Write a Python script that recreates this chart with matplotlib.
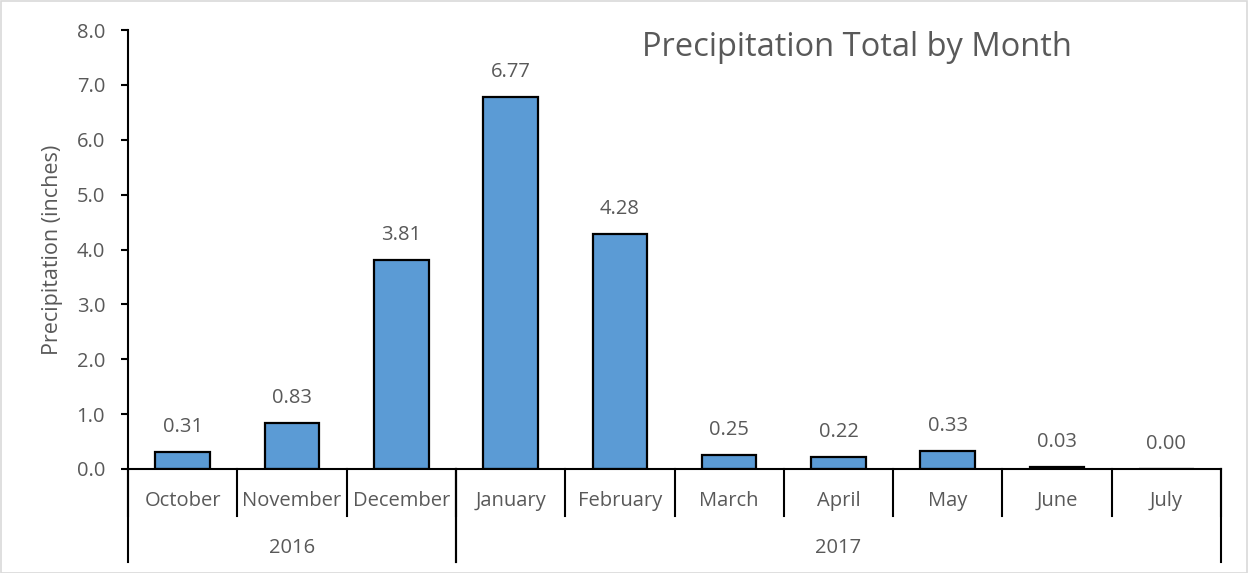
import matplotlib
matplotlib.use("Agg")
import matplotlib.pyplot as plt
from matplotlib.patches import Rectangle

months = ["October", "November", "December", "January", "February",
          "March", "April", "May", "June", "July"]
years = ["2016", "2017"]
year_spans = [(0, 3), (3, 10)]  # index ranges of months per year
precip = [0.31, 0.83, 3.81, 6.77, 4.28, 0.25, 0.22, 0.33, 0.03, 0.00]
yticks = [0.0, 1.0, 2.0, 3.0, 4.0, 5.0, 6.0, 7.0, 8.0]

plt.rcParams['font.family'] = ['Open Sans', 'DejaVu Sans']
TXT = '#595959'
FS = 14.5

W, H = 1248, 573
fig = plt.figure(figsize=(W / 100, H / 100), dpi=100)
fig.patch.set_facecolor('white')
fig.add_artist(Rectangle((0.5 / W, 0.5 / H), 1 - 1.5 / W, 1 - 1.5 / H,
                         transform=fig.transFigure, fill=False,
                         edgecolor='#D9D9D9', linewidth=1.2))

left, right, top, bottom = 128, 1221, 30, 469
ax = fig.add_axes([left / W, 1 - bottom / H, (right - left) / W, (bottom - top) / H])
ax_h = bottom - top
ax_w = right - left

x = list(range(len(months)))
ax.bar(x, precip, width=0.5, color='#5B9BD5', edgecolor='black', linewidth=1.6, zorder=2)
for xi, v in zip(x, precip):
    ax.annotate(f"{v:.2f}", (xi, v), xytext=(0, 18), textcoords='offset points',
                ha='center', va='center', fontsize=FS, color=TXT)

ax.set_xlim(-0.5, len(months) - 0.5)
ax.set_ylim(0, 8)
ax.set_yticks(yticks)
ax.set_yticklabels([f"{t:.1f}" for t in yticks], fontsize=FS, color=TXT)
ax.tick_params(axis='y', direction='out', length=5, width=1.5, color='black', pad=11.5)
ax.set_xticks([])
for s in ['top', 'right']:
    ax.spines[s].set_visible(False)
ax.spines['left'].set_linewidth(1.5)
ax.spines['bottom'].set_linewidth(1.5)
ax.text((53 - left) / ax_w, (bottom - 250) / ax_h, "Precipitation (inches)",
        transform=ax.transAxes, rotation=90, ha='center', va='center',
        fontsize=15.5, color=TXT)

tr = ax.get_xaxis_transform()
m_sep = -47 / ax_h
y_sep = -93 / ax_h
# month separators
for b in range(len(months) + 1):
    xb = b - 0.5
    ax.plot([xb, xb], [0, m_sep], transform=tr, color='black', lw=1.5, clip_on=False)
for xi, m in zip(x, months):
    ax.text(xi, -32 / ax_h, m, transform=tr, ha='center', va='center',
            fontsize=FS, color=TXT)
# year separators
for (a, b), yr in zip(year_spans, years):
    for xb in (a - 0.5, b - 0.5):
        ax.plot([xb, xb], [0, y_sep], transform=tr, color='black', lw=1.5, clip_on=False)
    ax.text((a + b - 1) / 2, -79 / ax_h, yr, transform=tr, ha='center', va='center',
            fontsize=FS, color=TXT)

fig.text(857 / W, 1 - 47 / H, "Precipitation Total by Month", ha='center', va='center',
         fontsize=23.5, color=TXT)

fig.savefig("out.png", dpi=100)
